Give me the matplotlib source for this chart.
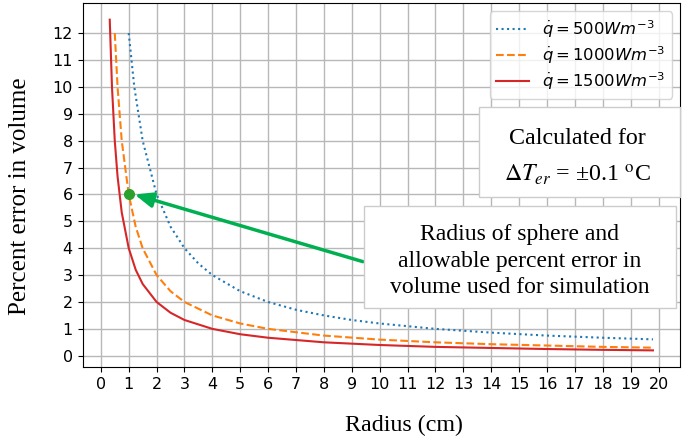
import matplotlib.pyplot as plt
from matplotlib.patches import Rectangle
import numpy as np

# percent error in volume vs radius
r_500 = [1, 1.2, 1.5, 2, 2.5, 3, 3.5, 4, 5, 6, 7, 8, 9, 10, 12, 14, 16, 18, 19.8]
e_500 = [12, 10, 8, 6, 4.8, 4, 3.43, 3, 2.4, 2, 1.71, 1.5, 1.33, 1.2, 1.0, 0.86, 0.75, 0.67, 0.61]

r_1000 = [0.5, 0.6, 0.75, 1, 1.25, 1.5, 2, 2.5, 3, 4, 5, 6, 8, 10, 12, 14, 16, 18, 19.8]
e_1000 = [12, 10, 8, 6, 4.8, 4, 3, 2.4, 2, 1.5, 1.2, 1.0, 0.75, 0.6, 0.5, 0.43, 0.38, 0.33, 0.3]

r_1500 = [0.32, 0.4, 0.5, 0.6, 0.75, 1, 1.25, 1.5, 2, 2.5, 3, 4, 5, 6, 8, 10, 12, 14, 16, 18, 19.8]
e_1500 = [12.5, 10, 8, 6.67, 5.33, 4, 3.2, 2.67, 2, 1.6, 1.33, 1, 0.8, 0.67, 0.5, 0.4, 0.33, 0.29, 0.25, 0.22, 0.2]

sim_point = (1, 6)
arrow_tip = (1.21, 6.0)
arrow_tail = (9.4, 3.5)

note1 = ['Calculated for', r'$\Delta T_{er}$ = ±0.1 $^{\mathrm{o}}$C']
note2 = ['Radius of sphere and', 'allowable percent error in', 'volume used for simulation']

fig, ax = plt.subplots(figsize=(6.94, 4.48), dpi=100)
fig.subplots_adjust(left=0.119, right=0.98, top=0.993, bottom=0.181)

ax.plot(r_500, e_500, ':', color='tab:blue', lw=1.5, label=r'$\dot{q}=500Wm^{-3}$')
ax.plot(r_1000, e_1000, '--', color='tab:orange', lw=1.5, label=r'$\dot{q}=1000Wm^{-3}$')
ax.plot(r_1500, e_1500, '-', color='tab:red', lw=1.5, label=r'$\dot{q}=1500Wm^{-3}$')

ax.plot(*sim_point, 'o', color='#2ca02c', ms=7, zorder=5)
ax.annotate('', xy=arrow_tip, xytext=arrow_tail,
            arrowprops=dict(arrowstyle='-|>,head_width=0.45,head_length=1.1',
                            color='#00b050', lw=2.5, shrinkA=0, shrinkB=0), zorder=4)

ax.set_xticks(np.arange(0, 21, 1))
ax.set_yticks(np.arange(0, 13, 1))
ax.tick_params(labelsize=11.5)
ax.grid(True, color='#b8b8b8', lw=1)

ax.set_xlabel('Radius (cm)', family='Liberation Serif', fontsize=17.3)
ax.set_ylabel('Percent error in volume', family='Liberation Serif', fontsize=18)
ax.xaxis.set_label_coords(0.538, -0.133)
ax.yaxis.set_label_coords(-0.087, 0.47)

ax.legend(loc='upper right', fontsize=11.8, labelspacing=0.28)

# note boxes
ax.add_patch(Rectangle((0.664, 0.467), 0.336, 0.247, transform=ax.transAxes,
                       facecolor='white', edgecolor='#cccccc', lw=1, zorder=6, clip_on=False))
ax.add_patch(Rectangle((0.471, 0.161), 0.522, 0.281, transform=ax.transAxes,
                       facecolor='white', edgecolor='#cccccc', lw=1, zorder=6, clip_on=False))

for line, y in zip(note1, [0.614, 0.509]):
    ax.text(0.8276, y, line, transform=ax.transAxes, ha='center', va='baseline',
            family='Liberation Serif', math_fontfamily='stix', fontsize=17.3, zorder=7)
for line, y in zip(note2, [0.349, 0.276, 0.203]):
    ax.text(0.732, y, line, transform=ax.transAxes, ha='center', va='baseline',
            family='Liberation Serif', fontsize=17, zorder=7)

fig.savefig('out.png')
